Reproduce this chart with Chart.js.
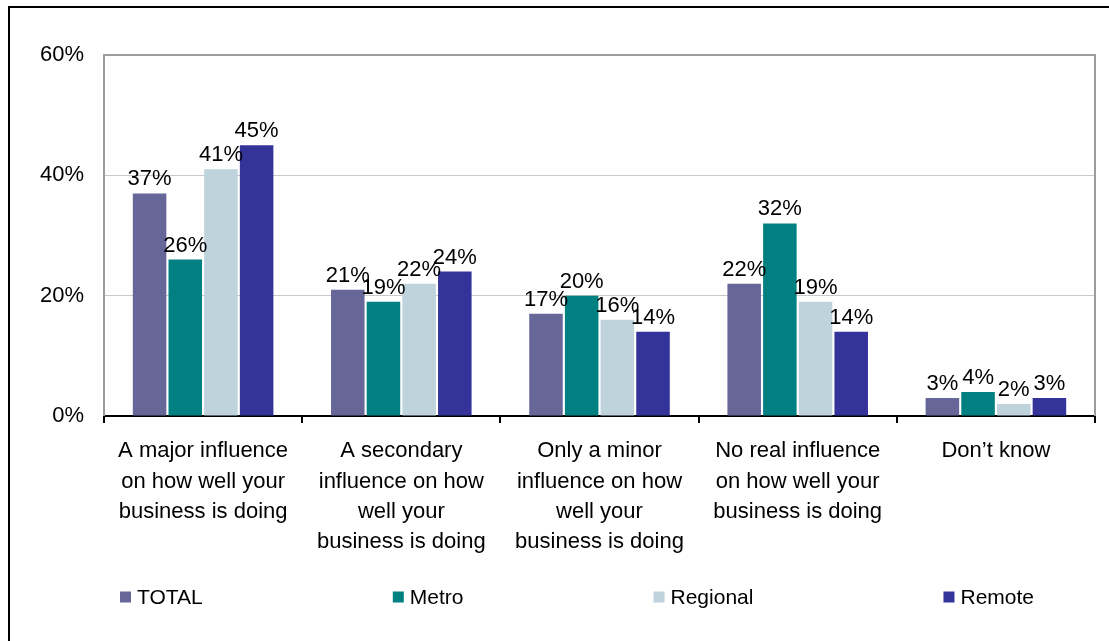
<!DOCTYPE html>
<html>
<head>
<meta charset="utf-8">
<script src="https://cdn.jsdelivr.net/npm/chart.js@4.4.0/dist/chart.umd.min.js"></script>
<style>
  html, body { margin: 0; padding: 0; background: #fff; }
  #wrap { position: relative; width: 1109px; height: 641px; }
  #frame { position: absolute; left: 8px; top: 6px; right: 0; bottom: -10px;
           border-left: 2px solid #000; border-top: 2px solid #000; pointer-events: none; }
</style>
</head>
<body>
<div id="wrap">
  <canvas id="mycanvas" width="1109" height="641"></canvas>
  <div id="frame"></div>
</div>
<script>
var categories = [
  ["A major influence", "on how well your", "business is doing"],
  ["A secondary", "influence on how", "well your", "business is doing"],
  ["Only a minor", "influence on how", "well your", "business is doing"],
  ["No real influence", "on how well your", "business is doing"],
  ["Don\u2019t know"]
];
var total    = [37, 21, 17, 22, 3];
var metro    = [26, 19, 20, 32, 4];
var regional = [41, 22, 16, 19, 2];
var remote   = [45, 24, 14, 14, 3];
var yTicks = [0, 20, 40, 60];

var FONT = "Arial, 'Liberation Sans', sans-serif";

// value labels above bars
var valueLabels = {
  id: 'valueLabels',
  afterDatasetsDraw: function(chart) {
    var ctx = chart.ctx;
    ctx.save();
    ctx.font = "22px " + FONT;
    ctx.fillStyle = "#000";
    ctx.textAlign = "center";
    ctx.textBaseline = "alphabetic";
    chart.data.datasets.forEach(function(ds, i) {
      chart.getDatasetMeta(i).data.forEach(function(el, j) {
        ctx.fillText(ds.data[j] + "%", el.x, el.y - 8);
      });
    });
    ctx.restore();
  }
};

// plot frame: gray left/top/right, black bottom axis
var plotFrame = {
  id: 'plotFrame',
  beforeDatasetsDraw: function(chart) {
    var a = chart.chartArea, ctx = chart.ctx;
    ctx.save();
    ctx.strokeStyle = "#9c9c9c";
    ctx.lineWidth = 2;
    ctx.beginPath();
    ctx.moveTo(a.left, a.bottom);
    ctx.lineTo(a.left, a.top);
    ctx.lineTo(a.right, a.top);
    ctx.lineTo(a.right, a.bottom);
    ctx.stroke();
    ctx.restore();
  }
};

// legend spread along the bottom
var spreadLegend = {
  id: 'spreadLegend',
  afterDraw: function(chart) {
    var ctx = chart.ctx, a = chart.chartArea;
    ctx.save();
    ctx.font = "21px " + FONT;
    ctx.textBaseline = "middle";
    ctx.textAlign = "left";
    var y = 597;
    var box = 11, gapText = 6;
    var items = chart.data.datasets.map(function(ds) {
      return { label: ds.label, color: ds.backgroundColor, w: box + gapText + ctx.measureText(ds.label).width };
    });
    var startX = a.left + 16, endX = 1034;
    var sumW = items.reduce(function(s, it) { return s + it.w; }, 0);
    var gap = (endX - startX - sumW) / (items.length - 1);
    var x = startX;
    items.forEach(function(it) {
      ctx.fillStyle = it.color;
      ctx.fillRect(x, y - box / 2, box, box);
      ctx.fillStyle = "#000";
      ctx.fillText(it.label, x + box + gapText, y + 1);
      x += it.w + gap;
    });
    ctx.restore();
  }
};

var chartdata = {
  labels: categories,
  datasets: [
    { label: 'TOTAL',    backgroundColor: '#666699', data: total },
    { label: 'Metro',    backgroundColor: '#008080', data: metro },
    { label: 'Regional', backgroundColor: '#BFD3DC', data: regional },
    { label: 'Remote',   backgroundColor: '#333399', data: remote }
  ]
};

var ctx = document.getElementById("mycanvas");
var barGraph = new Chart(ctx, {
  type: 'bar',
  data: chartdata,
  plugins: [plotFrame, valueLabels, spreadLegend],
  options: {
    responsive: false,
    animation: false,
    events: [],
    layout: { padding: { top: 55, right: 14, bottom: 25, left: 0 } },
    datasets: {
      bar: { categoryPercentage: 0.72, barPercentage: 0.94 }
    },
    plugins: {
      legend: { display: false },
      tooltip: { enabled: false }
    },
    scales: {
      x: {
        grid: { offset: true, drawOnChartArea: false, color: '#000', lineWidth: 2, tickLength: 7 },
        border: { color: '#000', width: 2 },
        ticks: {
          color: '#000', padding: 13, maxRotation: 0, autoSkip: false,
          font: { family: FONT, size: 22, lineHeight: 1.38 }
        },
        afterFit: function(scale) { scale.height = 200; }
      },
      y: {
        min: 0, max: 60,
        grid: { color: '#c8c8c8', lineWidth: 1, drawTicks: false },
        border: { display: false },
        afterBuildTicks: function(scale) {
          scale.ticks = yTicks.map(function(v) { return { value: v }; });
        },
        ticks: {
          color: '#000', padding: 20,
          font: { family: FONT, size: 22 },
          callback: function(v) { return v + '%'; }
        },
        afterFit: function(scale) { scale.width = 104; }
      }
    }
  }
});
</script>
</body>
</html>
